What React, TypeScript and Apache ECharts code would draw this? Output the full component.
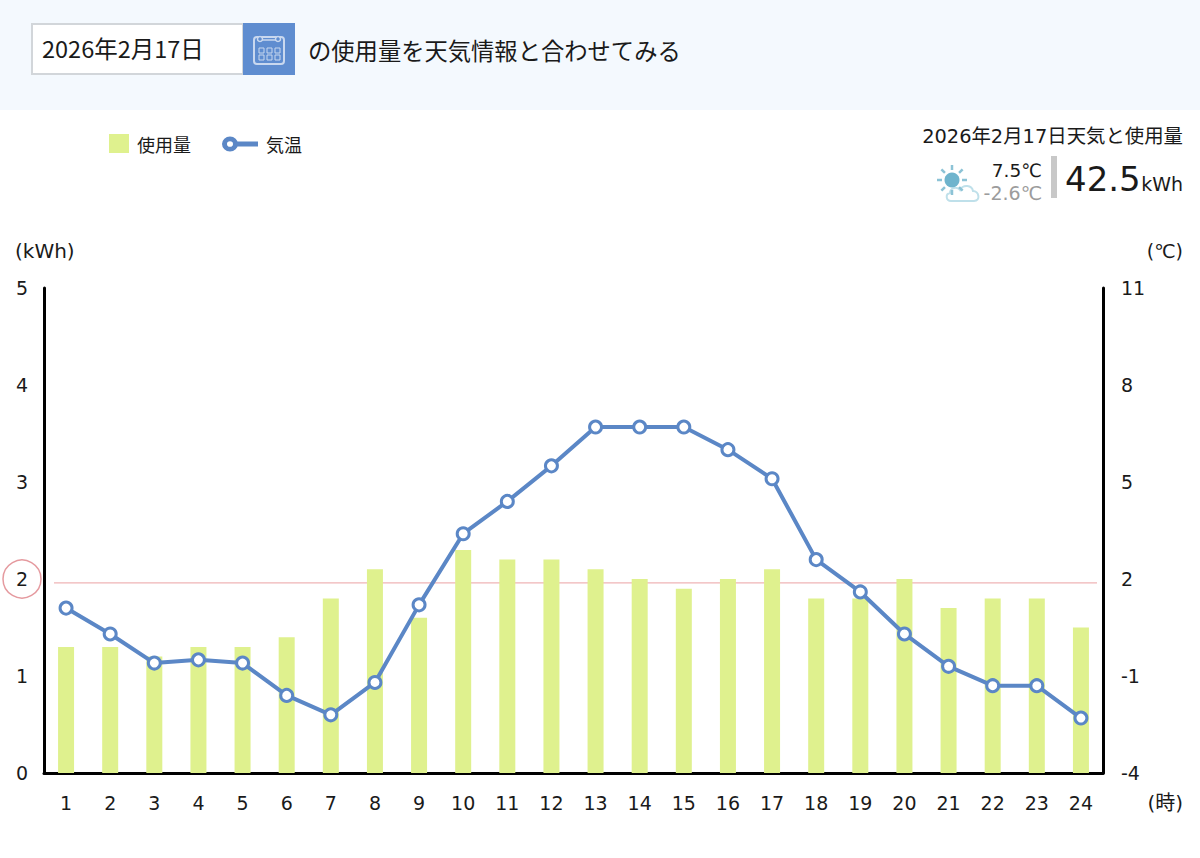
import React, { useEffect, useRef } from "react";
import * as echarts from "echarts";

const hours = ["1","2","3","4","5","6","7","8","9","10","11","12","13","14","15","16","17","18","19","20","21","22","23","24"];
const usage = [1.3,1.3,1.2,1.3,1.3,1.4,1.8,2.1,1.6,2.3,2.2,2.2,2.1,2.0,1.9,2.0,2.1,1.8,1.8,2.0,1.7,1.8,1.8,1.5];
const temperature = [1.1,0.3,-0.6,-0.5,-0.6,-1.6,-2.2,-1.2,1.2,3.4,4.4,5.5,6.7,6.7,6.7,6.0,5.1,2.6,1.6,0.3,-0.7,-1.3,-1.3,-2.3];
const averageUsage = 1.96;
const dateText = "2026年2月17日";
const headline = "の使用量を天気情報と合わせてみる";
const summaryTitle = "2026年2月17日天気と使用量";
const highTemp = "7.5℃";
const lowTemp = "-2.6℃";
const totalUsage = "42.5";

const FONT = '"DejaVu Sans", "Noto Sans CJK JP", sans-serif';
const JP = '"Noto Sans CJK JP", "DejaVu Sans", sans-serif';
const BLUE = "#5b87c6";
const INK = "#1a1a1a";

echarts.graphic.registerShape(
  "cloudMark",
  echarts.graphic.extendPath(
    "M6 22C1 22 0 15 5 14C5 9 12 7 15 11C18 5 27 6 28 12C34 12 36 22 29 22Z",
    {}
  )
);

const text = (x: number, y: number, t: string, size: number, extra: any = {}) => ({
  type: "text",
  x,
  y,
  silent: true,
  style: {
    text: t,
    fontSize: size,
    fontFamily: extra.fontFamily || FONT,
    fill: extra.fill || INK,
    align: extra.align || "left",
    verticalAlign: "middle",
  },
});

const sunRays = [0, 45, 90, 135, 180, 225, 270, 315].map((deg) => {
  const a = (deg * Math.PI) / 180;
  return {
    type: "line",
    silent: true,
    shape: {
      x1: 952 + Math.cos(a) * 10,
      y1: 180 + Math.sin(a) * 10,
      x2: 952 + Math.cos(a) * 15,
      y2: 180 + Math.sin(a) * 15,
    },
    style: { stroke: "#8cc3d6", lineWidth: 2.5 },
  };
});

const calendarCells: any[] = [];
for (const cx of [261, 269, 277]) {
  for (const cy of [50, 57]) {
    calendarCells.push({
      type: "rect",
      silent: true,
      shape: { x: cx - 2, y: cy - 2, width: 5, height: 5 },
      style: { fill: "none", stroke: "#c9d8ef", lineWidth: 1 },
    });
  }
}

const decorations = [
  { type: "rect", silent: true, z: -1, shape: { x: 0, y: 0, width: 1200, height: 110 }, style: { fill: "#f4f9fe" } },
  { type: "rect", silent: true, shape: { x: 32, y: 24, width: 211, height: 50 }, style: { fill: "#ffffff", stroke: "#d2d6da", lineWidth: 2 } },
  { type: "rect", silent: true, shape: { x: 243, y: 23, width: 52, height: 52 }, style: { fill: "#5f8dd0" } },
  { type: "rect", silent: true, shape: { x: 254, y: 37, width: 30, height: 27, r: 3 }, style: { fill: "none", stroke: "#c9d8ef", lineWidth: 2 } },
  { type: "line", silent: true, shape: { x1: 260, y1: 40, x2: 278, y2: 40 }, style: { stroke: "#c9d8ef", lineWidth: 1.5 } },
  { type: "circle", silent: true, shape: { cx: 260, cy: 39, r: 2.5 }, style: { fill: "#5f8dd0", stroke: "#c9d8ef", lineWidth: 1.5 } },
  { type: "circle", silent: true, shape: { cx: 278, cy: 39, r: 2.5 }, style: { fill: "#5f8dd0", stroke: "#c9d8ef", lineWidth: 1.5 } },
  ...calendarCells,
  text(42, 48, dateText, 23.5, { fontFamily: JP }),
  text(308, 50, headline, 23.3, { fontFamily: JP }),
  text(1183, 136, summaryTitle, 19.4, { align: "right" }),
  { type: "cloudMark", silent: true, x: 945, y: 179, style: { fill: "#ffffff", stroke: "#bfe0ea", lineWidth: 2 } },
  ...sunRays,
  { type: "circle", silent: true, shape: { cx: 952, cy: 180, r: 7.5 }, style: { fill: "#6fb4cd" } },
  text(1042, 170, highTemp, 18.5, { align: "right" }),
  text(1042, 193, lowTemp, 19, { align: "right", fill: "#9c9c9c" }),
  { type: "rect", silent: true, shape: { x: 1051, y: 156, width: 6, height: 42 }, style: { fill: "#c8c8c8" } },
  text(1065, 179, totalUsage, 34),
  text(1183, 184, "kWh", 19, { align: "right" }),
  text(15, 251, "(kWh)", 20),
  text(1183, 251, "(℃)", 19, { align: "right" }),
  text(1183, 803, "(時)", 20, { align: "right" }),
  { type: "circle", silent: true, shape: { cx: 22, cy: 579, r: 19 }, style: { fill: "none", stroke: "#e59a9f", lineWidth: 1.5 } },
];

export default function App() {
  const ref = useRef<HTMLDivElement>(null);
  useEffect(() => {
    document.body.style.margin = "0";
    const chart = echarts.init(ref.current!, null, { renderer: "svg" });
    chart.setOption({
      animation: false,
      backgroundColor: "#ffffff",
      textStyle: { fontFamily: FONT },
      grid: { left: 44, right: 97, top: 288, height: 485, containLabel: false },
      legend: [
        {
          data: [{ name: "使用量", icon: "rect" }],
          left: 109,
          top: 134,
          padding: 0,
          itemWidth: 20,
          itemHeight: 19,
          textStyle: { fontSize: 18, color: INK, fontFamily: JP, padding: [0, 0, 0, 3] },
        },
        {
          data: [
            {
              name: "気温",
              icon: "path://M0 7.5A8 7.5 0 1 1 16 7.5A8 7.5 0 1 1 0 7.5ZM5 7.5A3 2.8 0 1 0 11 7.5A3 2.8 0 1 0 5 7.5ZM15 5H36V10H15Z",
            },
          ],
          left: 222,
          top: 135,
          padding: 0,
          itemWidth: 36,
          itemHeight: 15,
          textStyle: { fontSize: 18, color: INK, fontFamily: JP, padding: [0, 0, 0, 3] },
          itemStyle: { color: BLUE, borderWidth: 0 },
          lineStyle: { width: 0, opacity: 0 },
        },
      ],
      xAxis: {
        type: "category",
        data: hours,
        axisLine: { lineStyle: { color: "#000", width: 3 } },
        axisTick: { show: false },
        axisLabel: { color: INK, fontSize: 19, margin: 20 },
      },
      yAxis: [
        {
          type: "value",
          min: 0,
          max: 5,
          interval: 1,
          axisLine: { show: true, lineStyle: { color: "#000", width: 3 } },
          axisTick: { show: false },
          splitLine: { show: false },
          axisLabel: { color: INK, fontSize: 19, margin: 22, align: "center" },
        },
        {
          type: "value",
          position: "right",
          min: -4,
          max: 11,
          interval: 3,
          axisLine: { show: true, onZero: false, lineStyle: { color: "#000", width: 3 } },
          axisTick: { show: false },
          splitLine: { show: false },
          axisLabel: { color: INK, fontSize: 19, margin: 18 },
        },
      ],
      series: [
        {
          name: "使用量",
          type: "bar",
          data: usage,
          barWidth: 16,
          itemStyle: { color: "#dff18e" },
        },
        {
          name: "気温",
          type: "line",
          yAxisIndex: 1,
          data: temperature,
          symbol: "circle",
          symbolSize: 12,
          showAllSymbol: true,
          lineStyle: { color: BLUE, width: 4 },
          itemStyle: { color: "#ffffff", borderColor: BLUE, borderWidth: 3 },
        },
      ],
    });
    const avgY = chart.convertToPixel({ yAxisIndex: 0 }, averageUsage) as number;
    chart.setOption({
      graphic: [
        ...decorations,
        {
          type: "line",
          silent: true,
          z: 1,
          shape: { x1: 54, y1: avgY, x2: 1097, y2: avgY },
          style: { stroke: "#efb4b6", lineWidth: 1.2 },
        },
      ],
    });
    return () => chart.dispose();
  }, []);
  return <div ref={ref} style={{ width: 1200, height: 858 }} />;
}
